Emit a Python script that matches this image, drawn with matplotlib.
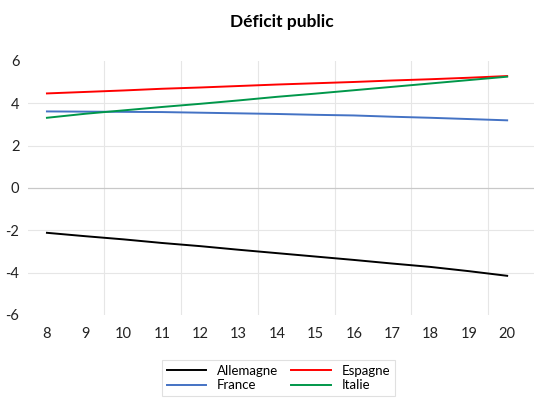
import numpy as np
from matplotlib import pyplot as plt

plt.rcParams['font.family'] = ['Lato', 'DejaVu Sans']
plt.rcParams['axes.unicode_minus'] = False

years = np.arange(8, 21)
allemagne = [-2.12, -2.28, -2.43, -2.60, -2.75, -2.92, -3.08, -3.24, -3.40, -3.57, -3.73, -3.93, -4.15]
espagne = [4.46, 4.53, 4.60, 4.68, 4.74, 4.81, 4.88, 4.94, 5.00, 5.07, 5.13, 5.20, 5.28]
france = [3.61, 3.60, 3.59, 3.58, 3.55, 3.52, 3.49, 3.45, 3.42, 3.36, 3.31, 3.25, 3.19]
italie = [3.31, 3.50, 3.66, 3.82, 3.97, 4.13, 4.30, 4.45, 4.61, 4.77, 4.93, 5.09, 5.25]

fh = plt.figure(figsize=(5.34, 4), dpi=100)
ah = fh.add_axes([0.052, 0.2125, 0.948, 0.6355])

# grid
for xg in np.arange(9.5, 20, 2):
    ah.axvline(xg, color='#e6e6e6', lw=0.8, zorder=0)
for yg in [-4, -2, 2, 4]:
    ah.axhline(yg, color='#e6e6e6', lw=0.8, zorder=0)
ah.axhline(0, color='#c8c8c8', lw=0.9, zorder=0)

la, = ah.plot(years, allemagne, color='black', lw=1.4)
le, = ah.plot(years, espagne, color='#ff0000', lw=1.4)
lf, = ah.plot(years, france, color='#4472c4', lw=1.4)
li, = ah.plot(years, italie, color='#00974a', lw=1.4)

ah.set_xlim(7.5, 20.7)
ah.set_ylim(-6, 6)
ah.set_xticks(years)
ah.set_yticks(np.arange(-6, 7, 2))
ah.tick_params(length=0, labelsize=10.5, colors='#222222')
ah.tick_params(axis='x', pad=9)
ah.tick_params(axis='y', pad=6)
for s in ah.spines.values():
    s.set_visible(False)

fh.text(0.527, 0.945, 'Déficit public', ha='center', va='center',
        fontsize=12.5, fontweight='bold')

leg = fh.legend([la, lf, le, li], ['Allemagne', 'France', 'Espagne', 'Italie'],
                ncol=2, loc='center', bbox_to_anchor=(0.521, 0.055),
                fontsize=9.5, frameon=True, fancybox=False, edgecolor='#d9d9d9',
                handlelength=3.0, columnspacing=1.0, borderpad=0.35,
                labelspacing=0.2)
leg.get_frame().set_linewidth(0.8)

plt.savefig('out.png', dpi=100)
